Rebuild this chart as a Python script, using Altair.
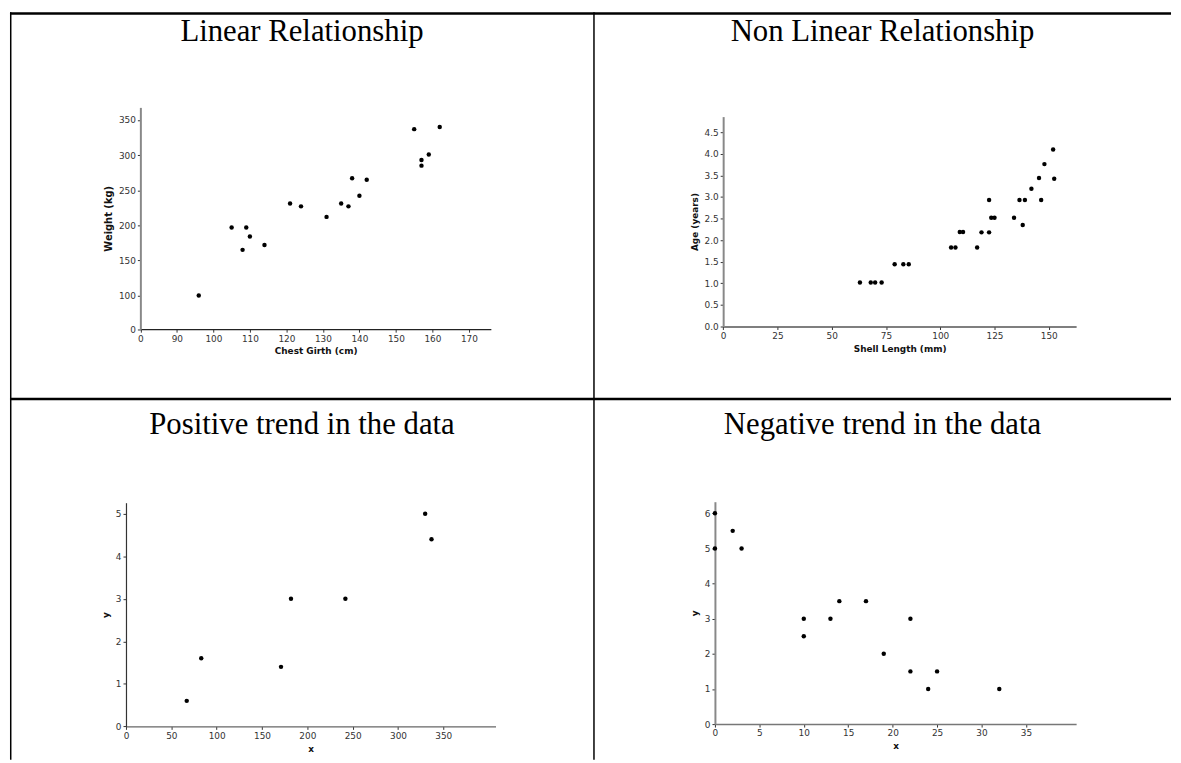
import altair as alt
import pandas as pd

titles = ["Linear Relationship", "Non Linear Relationship",
          "Positive trend in the data", "Negative trend in the data"]

# Panel 1: Chest girth vs weight
girth = [96, 105, 108, 109, 110, 114, 121, 124, 131, 135, 137, 138, 140, 142,
         155, 157, 157, 159, 162]
weight = [100, 197, 165, 197, 184, 172, 231, 227, 212, 231, 227, 267, 242, 265,
          337, 293, 285, 301, 340]

# Panel 2: Shell length vs age
shell = [63, 68, 70, 73, 79, 83, 85.5, 105, 107, 109, 110.5, 117, 119, 122.5,
         122.5, 123.5, 125, 134, 136.5, 138, 139, 142, 145.5, 146.5, 148, 152, 152.5]
age = [1.02, 1.02, 1.02, 1.02, 1.44, 1.44, 1.44, 1.83, 1.83, 2.19, 2.19, 1.83,
       2.18, 2.18, 2.93, 2.52, 2.52, 2.52, 2.93, 2.35, 2.93, 3.19, 3.44, 2.93,
       3.76, 4.10, 3.42]

# Panel 3: positive trend
pos_x = [67, 83, 171, 182, 242, 330, 337]
pos_y = [0.6, 1.6, 1.4, 3, 3, 5, 4.4]

# Panel 4: negative trend
neg_x = [0, 0, 2, 3, 10, 10, 13, 14, 17, 19, 22, 22, 24, 25, 32]
neg_y = [6, 5, 5.5, 5, 3, 2.5, 3, 3.5, 3.5, 2, 3, 1.5, 1, 1.5, 1]

# Tick values
lin_xticks = [80, 90, 100, 110, 120, 130, 140, 150, 160, 170]
lin_yticks = [52, 100, 150, 200, 250, 300, 350]
nl_xticks = [0, 25, 50, 75, 100, 125, 150]
nl_yticks = [0, 0.5, 1.0, 1.5, 2.0, 2.5, 3.0, 3.5, 4.0, 4.5]
pos_xticks = [0, 50, 100, 150, 200, 250, 300, 350]
pos_yticks = [0, 1, 2, 3, 4, 5]
neg_xticks = [0, 5, 10, 15, 20, 25, 30, 35]
neg_yticks = [0, 1, 2, 3, 4, 5, 6]

LABEL_FONT = "DejaVu Sans"
W1, W2 = 589, 582
H1, H2 = 390, 364


def rule(**enc):
    return alt.Chart(pd.DataFrame({"a": [0]})).mark_rule(
        color="black", strokeWidth=enc.pop("sw", 1)).encode(**enc)


def cell(xs, ys, xtitle, ytitle, xdom, ydom, xrange, yrange, xticks, yticks,
         w, h, title, ty, xlabelexpr=None, ylabelexpr=None, yfmt=None,
         xcolor="#555", xwidth=1.5, ycolor="#888", ywidth=2, ytsize=9, borders=()):
    df = pd.DataFrame({"x": xs, "y": ys})
    xaxis_kw = dict(values=xticks, title=xtitle, offset=yrange[0] - h, grid=False,
                    domainColor=xcolor, domainWidth=xwidth, labelFlush=False,
                    labelOverlap=False, titlePadding=4)
    yaxis_kw = dict(values=yticks, title=ytitle, offset=-xrange[0], grid=False,
                    domainColor=ycolor, domainWidth=ywidth, labelFlush=False,
                    labelOverlap=False, titlePadding=5, titleFontSize=ytsize)
    if xlabelexpr:
        xaxis_kw["labelExpr"] = xlabelexpr
    if ylabelexpr:
        yaxis_kw["labelExpr"] = ylabelexpr
    if yfmt:
        yaxis_kw["format"] = yfmt
    pts = alt.Chart(df).mark_circle(size=20, color="black", opacity=1).encode(
        x=alt.X("x:Q", scale=alt.Scale(domain=xdom, range=xrange, nice=False, zero=False),
                axis=alt.Axis(**xaxis_kw)),
        y=alt.Y("y:Q", scale=alt.Scale(domain=ydom, range=yrange, nice=False, zero=False),
                axis=alt.Axis(**yaxis_kw)),
    )
    ttl = alt.Chart(pd.DataFrame({"t": [title]})).mark_text(
        font="Liberation Serif", fontSize=31, align="center", baseline="middle",
        color="black").encode(text="t:N", x=alt.value(w / 2), y=alt.value(ty))
    layers = [pts, ttl] + list(borders)
    return alt.layer(*layers).properties(width=w, height=h)


c1 = cell(girth, weight, "Chest Girth (cm)", "Weight (kg)", [80, 176], [52, 368],
          [131.5, 485], [319.7, 96], lin_xticks, lin_yticks, W1, H1, titles[0], 20,
          xlabelexpr="datum.value == 80 ? '0' : datum.label",
          ylabelexpr="datum.value == 52 ? '0' : datum.label",
          xcolor="#222", xwidth=1.2, ycolor="#888", ywidth=2, ytsize=10,
          borders=[rule(x=alt.value(0), x2=alt.value(W1), y=alt.value(1.25), sw=2.5),
                   rule(y=alt.value(0), y2=alt.value(H1), x=alt.value(0.75), sw=1.5),
                   rule(y=alt.value(0), y2=alt.value(H1), x=alt.value(W1), sw=1.5),
                   rule(x=alt.value(0), x2=alt.value(W1), y=alt.value(H1), sw=2.5)])

c2 = cell(shell, age, "Shell Length (mm)", "Age (years)", [0, 162.6], [0, 4.86],
          [130.3, 486.3], [317, 105.3], nl_xticks, nl_yticks, W2, H1, titles[1], 20,
          yfmt=".1f", xcolor="#555", xwidth=1.5, ycolor="#888", ywidth=2,
          borders=[rule(x=alt.value(0), x2=alt.value(W2), y=alt.value(1.25), sw=2.5),
                   rule(x=alt.value(0), x2=alt.value(W2), y=alt.value(H1), sw=2.5)])

c3 = cell(pos_x, pos_y, "x", "y", [0, 407.6], [0, 5.26],
          [117, 489.7], [330.3, 104.7], pos_xticks, pos_yticks, W1, H2, titles[2], 26,
          xcolor="#666", xwidth=1.5, ycolor="#333", ywidth=1.2,
          borders=[rule(y=alt.value(0), y2=alt.value(H2), x=alt.value(0.75), sw=1.5),
                   rule(y=alt.value(0), y2=alt.value(H2), x=alt.value(W1), sw=1.5)])

c4 = cell(neg_x, neg_y, "x", "y", [0, 40.65], [0, 6.33],
          [122, 486.3], [328, 103.7], neg_xticks, neg_yticks, W2, H2, titles[3], 26,
          xcolor="#777", xwidth=1.5, ycolor="#888", ywidth=2)

chart = alt.concat(c1, c2, c3, c4, columns=2, spacing=0, bounds="flush").properties(
    padding=0, background="white"
).configure_view(stroke=None).configure_axis(
    labelFont=LABEL_FONT, labelFontSize=9, labelColor="#333",
    tickSize=3, tickColor="#333", tickWidth=1, labelPadding=2,
    titleFont=LABEL_FONT, titleFontSize=9, titleFontWeight="bold", titleColor="#111",
)

chart.save("out.html", embed_options={"renderer": "svg", "actions": False})
